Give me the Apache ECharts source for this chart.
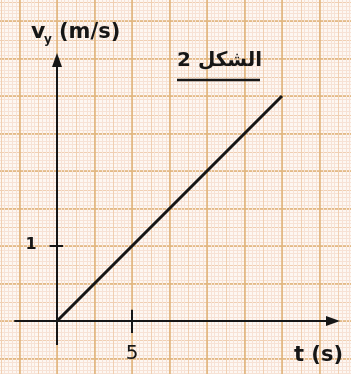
<!DOCTYPE html>
<html>
<head>
<meta charset="utf-8">
<script src="https://cdn.jsdelivr.net/npm/echarts@6/dist/echarts.min.js"></script>
<style>
  html, body { margin: 0; padding: 0; background: #fdf7f2; }
  #chart { width: 351px; height: 374px; }
</style>
</head>
<body>
<div id="chart"></div>
<script>
// Velocity v_y against time t: a straight line from the origin
const tVals = [0, 15];          // t (s)
const vVals = [0, 3];           // v_y (m/s)
const xTickVals = [5];          // labelled tick on the t axis
const yTickVals = [1];          // labelled tick on the v_y axis

// Paper grid range (axis units)
const tMin = -5, tMax = 20;
const vMin = -1, vMax = 4.5;

const ink = '#161616';
const paper = {
  minor: '#f7e2d5',
  mid: '#f0cfb2',
  major: '#dfb277'
};

const chart = echarts.init(document.getElementById('chart'), null, { renderer: 'canvas' });

const hidden = {
  axisLine: { show: false },
  axisTick: { show: false },
  axisLabel: { show: false }
};

const linePoints = tVals.map((t, i) => [t, vVals[i]]);

// tick marks crossing each axis
const tickLines = [];
xTickVals.forEach(v => tickLines.push([{ coord: [v, 0.15] }, { coord: [v, -0.16] }]));
yTickVals.forEach(v => tickLines.push([{ coord: [-0.5, v] }, { coord: [0.4, v] }]));

const arrowEnd = { symbol: 'triangle', symbolSize: [10, 14] };

option = {
  animation: false,
  backgroundColor: '#fdf7f2',
  grid: {
    left: -18, top: -16.5, width: 375, height: 412.5,
    outerBoundsMode: 'none', containLabel: false
  },
  xAxis: [
    {
      type: 'value', min: tMin, max: tMax, interval: 1.25, gridIndex: 0, ...hidden,
      splitLine: { show: true, lineStyle: { color: paper.mid, width: 1 } },
      minorTick: { show: false, splitNumber: 5 },
      minorSplitLine: { show: true, lineStyle: { color: paper.minor, width: 1 } }
    },
    {
      type: 'value', min: tMin, max: tMax, interval: 2.5, gridIndex: 0, ...hidden,
      splitLine: { show: true, lineStyle: { color: paper.major, width: 1.5 } }
    }
  ],
  yAxis: [
    {
      type: 'value', min: vMin, max: vMax, interval: 0.25, gridIndex: 0, ...hidden,
      splitLine: { show: true, lineStyle: { color: paper.mid, width: 1 } },
      minorTick: { show: false, splitNumber: 5 },
      minorSplitLine: { show: true, lineStyle: { color: paper.minor, width: 1 } }
    },
    {
      type: 'value', min: vMin, max: vMax, interval: 0.5, gridIndex: 0, ...hidden,
      splitLine: { show: true, lineStyle: { color: paper.major, width: 1.5 } }
    }
  ],
  series: [
    {
      type: 'line',
      xAxisIndex: 1,
      yAxisIndex: 1,
      data: linePoints,
      showSymbol: false,
      symbol: 'none',
      clip: false,
      lineStyle: { color: ink, width: 3 },
      z: 5,
      markLine: {
        silent: true,
        symbol: ['none', 'none'],
        label: { show: false },
        lineStyle: { color: ink, width: 2, type: 'solid' },
        data: [
          [{ coord: [-2.85, 0] }, { coord: [18.4, 0], ...arrowEnd }],
          [{ coord: [0, -0.32] }, { coord: [0, 3.48], ...arrowEnd }]
        ].concat(tickLines)
      },
      markPoint: {
        silent: true,
        symbol: 'circle',
        symbolSize: 0,
        data: xTickVals.map(v => ({
          coord: [v, 0], value: v,
          label: { show: true, formatter: String(v), offset: [0, 33],
            fontFamily: 'DejaVu Sans', fontSize: 20, color: ink }
        })).concat(yTickVals.map(v => ({
          coord: [0, v], value: v,
          label: { show: true, formatter: String(v), offset: [-26, -1],
            fontFamily: 'DejaVu Sans', fontWeight: 'bold', fontSize: 16, color: ink }
        })))
      }
    }
  ],
  graphic: [
    { type: 'text', left: 31, top: 21, z: 10,
      style: { text: 'v', font: 'bold 22px "DejaVu Sans"', fill: ink } },
    { type: 'text', left: 44, top: 34, z: 10,
      style: { text: 'y', font: 'bold 12px "DejaVu Sans"', fill: ink } },
    { type: 'text', left: 59, top: 22, z: 10,
      style: { text: '(m/s)', font: 'bold 21px "DejaVu Sans"', fill: ink } },
    { type: 'text', left: 294, top: 345, z: 10,
      style: { text: 't (s)', font: 'bold 21px "DejaVu Sans"', fill: ink } },
    { type: 'text', left: 177, top: 51, z: 10,
      style: { text: 'الشكل 2', font: 'bold 20px "DejaVu Sans"', fill: ink } },
    { type: 'line', z: 10,
      shape: { x1: 177, y1: 80, x2: 260, y2: 80 },
      style: { stroke: ink, lineWidth: 2.5 } }
  ]
};

chart.setOption(option);
</script>
</body>
</html>
